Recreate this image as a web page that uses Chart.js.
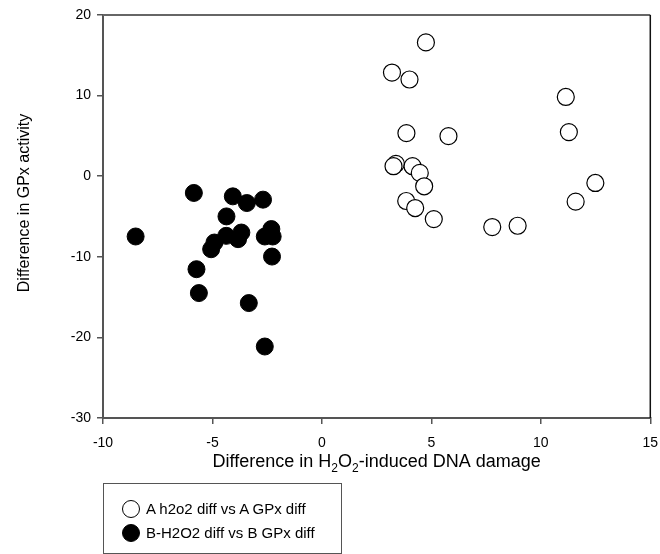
<!DOCTYPE html>
<html>
<head>
<meta charset="utf-8">
<script src="https://cdn.jsdelivr.net/npm/chart.js@4/dist/chart.umd.min.js"></script>
<style>
    html, body { margin: 0; padding: 0; background: #fff; }
    #wrap { position: relative; width: 660px; height: 554px; font-family: "Liberation Sans", Arial, sans-serif; }
    #legendBox {
        position: absolute; left: 103px; top: 483px; width: 239px; height: 71px;
        border: 1px solid #555; box-sizing: border-box; font-size: 15px; color: #000;
    }
    .item { position: absolute; left: 18px; height: 20px; line-height: 20px; white-space: nowrap; }
    .dot { display: inline-block; width: 18px; height: 18px; border-radius: 50%; box-sizing: border-box;
           border: 1.2px solid #000; vertical-align: middle; margin-right: 6px; position: relative; top: -1px; }
</style>
</head>
<body>
<div id="wrap">
    <canvas id="gpxChart" width="660" height="554"></canvas>
    <div id="legendBox">
        <div class="item" style="top:15px"><span class="dot" style="background:#fff"></span><span id="lgA"></span></div>
        <div class="item" style="top:39px"><span class="dot" style="background:#000"></span><span id="lgB"></span></div>
    </div>
</div>
<script>
const seriesNames = ["A h2o2 diff vs A GPx diff", "B-H2O2 diff vs B GPx diff"];

// series A (open circles)
const aX = [4.75, 3.20, 4.00, 11.14, 3.86, 5.78, 11.28, 3.38, 3.27, 4.14, 4.47, 4.67, 12.49, 3.85, 4.26, 11.59, 5.11, 7.78, 8.94];
const aY = [16.6, 12.86, 12.0, 9.83, 5.34, 4.97, 5.47, 1.53, 1.24, 1.24, 0.41, -1.25, -0.84, -3.08, -3.95, -3.16, -5.32, -6.31, -6.15];

// series B (filled circles)
const bX = [-8.51, -5.85, -4.07, -3.43, -2.69, -4.36, -4.37, -4.91, -5.06, -3.68, -3.83, -2.31, -2.61, -2.25, -2.28, -5.73, -5.62, -3.34, -2.61];
const bY = [-7.48, -2.08, -2.50, -3.33, -2.91, -4.99, -7.40, -8.23, -9.06, -6.99, -7.81, -6.56, -7.48, -7.48, -9.97, -11.54, -14.50, -15.74, -21.13];

const xTicks = [-10, -5, 0, 5, 10, 15];
const yTicks = [-30, -20, -10, 0, 10, 20];

const xTitleParts = [["Difference in H", false], ["2", true], ["O", false], ["2", true], ["-induced DNA damage", false]];
const yTitle = "Difference in GPx activity";

document.getElementById("lgA").textContent = seriesNames[0];
document.getElementById("lgB").textContent = seriesNames[1];

const toPoints = (xs, ys) => xs.map((x, i) => ({ x: x, y: ys[i] }));

const FONT = "'Liberation Sans', Arial, sans-serif";

const framePlugin = {
    id: "frame",
    afterDraw(chart) {
        const { ctx, chartArea: a } = chart;
        ctx.save();
        ctx.strokeStyle = "#666";
        ctx.lineWidth = 2;
        ctx.beginPath();
        ctx.moveTo(a.left, a.top);
        ctx.lineTo(a.right, a.top);
        ctx.stroke();
        ctx.strokeStyle = "#111";
        ctx.lineWidth = 1.5;
        ctx.beginPath();
        ctx.moveTo(a.right, a.top);
        ctx.lineTo(a.right, a.bottom);
        ctx.stroke();

        // axis titles
        ctx.fillStyle = "#000";
        ctx.textBaseline = "middle";
        const big = "18px " + FONT, small = "12px " + FONT;
        let total = 0;
        xTitleParts.forEach(p => { ctx.font = p[1] ? small : big; total += ctx.measureText(p[0]).width; });
        let x = (a.left + a.right) / 2 - total / 2;
        const y = 462;
        ctx.textAlign = "left";
        xTitleParts.forEach(p => {
            ctx.font = p[1] ? small : big;
            ctx.fillText(p[0], x, p[1] ? y + 7 : y);
            x += ctx.measureText(p[0]).width;
        });

        ctx.translate(25, 203);
        ctx.rotate(-Math.PI / 2);
        ctx.textAlign = "center";
        ctx.font = "16px " + FONT;
        ctx.fillText(yTitle, 0, 0);
        ctx.restore();
    }
};

const zeroPad = s => { s.paddingLeft = 0; s.paddingRight = 0; s.paddingTop = 0; s.paddingBottom = 0; };

new Chart(document.getElementById("gpxChart"), {
    type: "scatter",
    data: {
        datasets: [
            {
                label: seriesNames[0],
                data: toPoints(aX, aY),
                pointRadius: 8.5,
                pointBackgroundColor: "#fff",
                pointBorderColor: "#000",
                pointBorderWidth: 1.2
            },
            {
                label: seriesNames[1],
                data: toPoints(bX, bY),
                pointRadius: 8.5,
                pointBackgroundColor: "#000",
                pointBorderColor: "#000",
                pointBorderWidth: 1
            }
        ]
    },
    options: {
        responsive: false,
        animation: false,
        layout: { padding: { top: 15, right: 8, left: 0, bottom: 0 } },
        plugins: { legend: { display: false }, tooltip: { enabled: false } },
        scales: {
            x: {
                type: "linear",
                min: xTicks[0],
                max: xTicks[xTicks.length - 1],
                afterBuildTicks: s => { s.ticks = xTicks.map(v => ({ value: v })); },
                ticks: { color: "#000", font: { size: 14, family: FONT }, padding: 11, maxRotation: 0 },
                grid: { drawOnChartArea: false, drawTicks: true, tickLength: 6, color: "#555", lineWidth: 1.5 },
                border: { display: true, color: "#555", width: 2 },
                afterFit: s => { s.height = 136; zeroPad(s); }
            },
            y: {
                type: "linear",
                min: yTicks[0],
                max: yTicks[yTicks.length - 1],
                afterBuildTicks: s => { s.ticks = yTicks.map(v => ({ value: v })); },
                ticks: { color: "#000", font: { size: 14, family: FONT }, padding: 6 },
                grid: { drawOnChartArea: false, drawTicks: true, tickLength: 6, color: "#555", lineWidth: 1.5 },
                border: { display: true, color: "#555", width: 2 },
                afterFit: s => { s.width = 103; zeroPad(s); }
            }
        }
    },
    plugins: [framePlugin]
});
</script>
</body>
</html>
